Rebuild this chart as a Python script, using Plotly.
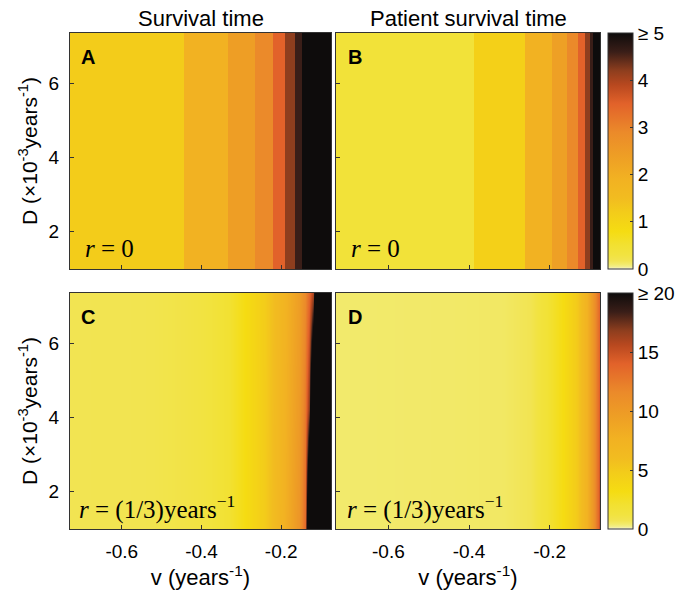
import plotly.graph_objects as go

W, H = 699, 593

# ---------------- data ----------------
# Panel A: survival time (r = 0), banded in v, constant in D
v_edges_A = [-0.73, -0.444, -0.3335, -0.266, -0.221, -0.190, -0.165, -0.148, -0.075]
surv_A = [1.2, 1.9, 2.4, 2.9, 3.5, 4.2, 4.6, 5.5]

# Panel B: patient survival time (r = 0)
v_edges_B = [-0.73, -0.388, -0.261, -0.194, -0.157, -0.130, -0.112, -0.100, -0.092, -0.075]
surv_B = [0.4, 1.1, 1.9, 2.35, 2.9, 3.5, 4.2, 4.6, 5.5]

D_edges = [1.0, 7.35]   # x10^-3 years^-1
D_rows = [1.0, 4.2, 7.35]

# Panel C: survival time (r = 1/3)
v_C = [-0.73, -0.55, -0.45, -0.39, -0.33, -0.29, -0.24, -0.19, -0.155, -0.14, -0.13, -0.12, -0.11, -0.075]
C_low = [0.7, 0.75, 1.0, 1.2, 2.0, 3.2, 4.9, 7.8, 10.5, 13.5, 30, 30, 30, 30]
C_mid = [0.7, 0.75, 1.0, 1.2, 2.0, 3.2, 4.85, 7.6, 10.0, 12.5, 17, 30, 30, 30]
C_high = [0.7, 0.75, 1.0, 1.2, 2.0, 3.2, 4.8, 7.4, 9.6, 11.5, 13.5, 16, 30, 30]

# Panel D: patient survival time (r = 1/3)
v_D = [-0.73, -0.44, -0.316, -0.249, -0.206, -0.167, -0.132, -0.108, -0.092, -0.080, -0.075]
Dp_low = [0.4, 0.45, 0.5, 0.7, 1.8, 3.2, 5.0, 7.6, 10.4, 13.6, 16.0]
Dp_mid = [0.4, 0.45, 0.5, 0.7, 1.8, 3.2, 5.0, 7.6, 10.4, 13.3, 15.0]
Dp_high = [0.4, 0.45, 0.5, 0.7, 1.8, 3.2, 5.0, 7.6, 10.4, 13.0, 14.0]

x_ticks = [-0.6, -0.4, -0.2]
x_ticktext = ["-0.6", "-0.4", "-0.2"]
y_ticks = [2, 4, 6]
cb1_vals = [0, 1, 2, 3, 4, 5]
cb1_text = ["0", "1", "2", "3", "4", "≥ 5"]
cb2_vals = [0, 5, 10, 15, 20]
cb2_text = ["0", "5", "10", "15", "≥ 20"]

colorscale = [
    [0.000, "#f4f4f2"],
    [0.008, "#f3ee90"],
    [0.020, "#f2ea6c"],
    [0.035, "#f2e452"],
    [0.060, "#f2e340"],
    [0.100, "#f2e132"],
    [0.160, "#f5dc12"],
    [0.240, "#f3cc1a"],
    [0.300, "#f2bc20"],
    [0.380, "#f2b222"],
    [0.480, "#ee9e25"],
    [0.580, "#eb8a2a"],
    [0.700, "#e2622a"],
    [0.780, "#b8481f"],
    [0.840, "#8e3e1e"],
    [0.920, "#3a1e18"],
    [1.000, "#0e0c0c"],
]

# ---------------- layout helpers ----------------
def px(x):
    return x / W

def py(y):
    return 1 - y / H

xA = [px(70), px(331)]
xB = [px(336), px(600)]
yTop = [py(269), py(33)]
yBot = [py(529), py(293)]

FONT = "Liberation Sans, Arial, Helvetica, sans-serif"
SERIF = "Liberation Serif, DejaVu Serif, serif"
LINE = "#333333"

fig = go.Figure()
fig.add_trace(go.Heatmap(x=v_edges_A, y=D_edges, z=[surv_A], coloraxis="coloraxis",
                         zsmooth=False, xaxis="x", yaxis="y", hoverinfo="skip"))
fig.add_trace(go.Heatmap(x=v_edges_B, y=D_edges, z=[surv_B], coloraxis="coloraxis",
                         zsmooth=False, xaxis="x2", yaxis="y2", hoverinfo="skip"))
fig.add_trace(go.Heatmap(x=v_C, y=D_rows, z=[C_low, C_mid, C_high], coloraxis="coloraxis2",
                         zsmooth="best", xaxis="x3", yaxis="y3", hoverinfo="skip"))
fig.add_trace(go.Heatmap(x=v_D, y=D_rows, z=[Dp_low, Dp_mid, Dp_high], coloraxis="coloraxis2",
                         zsmooth="best", xaxis="x4", yaxis="y4", hoverinfo="skip"))

common = dict(showgrid=False, zeroline=False, showline=True, mirror=True,
              linecolor=LINE, linewidth=1, ticks="inside", ticklen=4,
              tickcolor=LINE, tickfont=dict(size=19, family=FONT, color="black"))

xr = [-0.73, -0.075]
yr = [1.0, 7.35]
ytitle = dict(text="D (×10<sup>-3</sup>years<sup>-1</sup>)", font=dict(size=21, family=FONT), standoff=5)
xtitle = dict(text="v (years<sup>-1</sup>)", font=dict(size=22, family=FONT), standoff=4)

fig.update_layout(
    width=W, height=H,
    margin=dict(l=0, r=0, t=0, b=0),
    paper_bgcolor="white", plot_bgcolor="white",
    font=dict(family=FONT, color="black"),
    xaxis=dict(domain=xA, range=xr, anchor="y", tickvals=x_ticks, showticklabels=False, **common),
    yaxis=dict(domain=yTop, range=yr, anchor="x", tickvals=y_ticks, title=ytitle,
               ticklabelstandoff=6, **common),
    xaxis2=dict(domain=xB, range=xr, anchor="y2", tickvals=x_ticks, showticklabels=False, **common),
    yaxis2=dict(domain=yTop, range=yr, anchor="x2", tickvals=y_ticks, showticklabels=False, **common),
    xaxis3=dict(domain=xA, range=xr, anchor="y3", tickvals=x_ticks, ticktext=x_ticktext,
                ticklabelstandoff=5, title=xtitle, **common),
    yaxis3=dict(domain=yBot, range=yr, anchor="x3", tickvals=y_ticks, title=ytitle,
                ticklabelstandoff=6, **common),
    xaxis4=dict(domain=xB, range=xr, anchor="y4", tickvals=x_ticks, ticktext=x_ticktext,
                ticklabelstandoff=5, title=xtitle, **common),
    yaxis4=dict(domain=yBot, range=yr, anchor="x4", tickvals=y_ticks, showticklabels=False, **common),
    coloraxis=dict(
        colorscale=colorscale, cmin=0, cmax=5,
        colorbar=dict(x=px(608), xanchor="left", y=py(33), yanchor="top",
                      len=236 / H, lenmode="fraction", thickness=25, thicknessmode="pixels",
                      xpad=0, ypad=0, outlinecolor=LINE, outlinewidth=1,
                      tickvals=cb1_vals, ticktext=cb1_text, ticks="inside", ticklen=3,
                      tickcolor=LINE, tickfont=dict(size=19, family=FONT)),
    ),
    coloraxis2=dict(
        colorscale=colorscale, cmin=0, cmax=20,
        colorbar=dict(x=px(608), xanchor="left", y=py(293), yanchor="top",
                      len=236 / H, lenmode="fraction", thickness=25, thicknessmode="pixels",
                      xpad=0, ypad=0, outlinecolor=LINE, outlinewidth=1,
                      tickvals=cb2_vals, ticktext=cb2_text, ticks="inside", ticklen=3,
                      tickcolor=LINE, tickfont=dict(size=19, family=FONT)),
    ),
)

ann = []
ann.append(dict(text="Survival time", x=px(201), y=py(18), xref="paper", yref="paper",
                xanchor="center", yanchor="middle",
                showarrow=False, font=dict(size=22, family=FONT)))
ann.append(dict(text="Patient survival time", x=px(468), y=py(18), xref="paper", yref="paper",
                xanchor="center", yanchor="middle",
                showarrow=False, font=dict(size=22, family=FONT)))
for lab, x0, y0 in [("A", 79, 57), ("B", 346, 57), ("C", 79, 317), ("D", 346, 317)]:
    ann.append(dict(text="<b>%s</b>" % lab, x=px(x0), y=py(y0), xref="paper", yref="paper",
                    xanchor="left", yanchor="middle", showarrow=False,
                    font=dict(size=20, family=FONT)))
for txt, x0, y0 in [("<i>r</i> = 0", 83, 248), ("<i>r</i> = 0", 349, 248),
                    ("<i>r</i> = (1/3)years<sup>−1</sup>", 77, 507),
                    ("<i>r</i> = (1/3)years<sup>−1</sup>", 345, 507)]:
    ann.append(dict(text=txt, x=px(x0), y=py(y0), xref="paper", yref="paper",
                    xanchor="left", yanchor="middle", showarrow=False,
                    font=dict(size=25, family=SERIF)))
fig.update_layout(annotations=ann)

fig.write_html("out.html")
